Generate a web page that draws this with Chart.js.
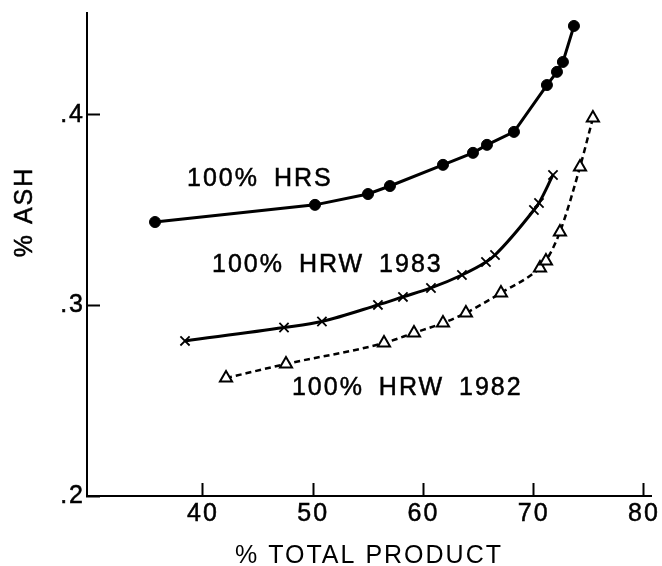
<!DOCTYPE html>
<html>
<head>
<meta charset="utf-8">
<script src="https://cdn.jsdelivr.net/npm/chart.js@4"></script>
<style>
  html, body { margin: 0; padding: 0; background: #fff; }
  canvas { display: block; }
</style>
</head>
<body>
<canvas id="c" width="662" height="566"></canvas>
<script>
// ---- data ----
const hrsX = [35.65, 50.16, 54.97, 56.96, 61.77, 64.49, 65.76, 68.21, 71.20, 72.11, 72.65, 73.65];
const hrsY = [0.3438, 0.3528, 0.3585, 0.3627, 0.3738, 0.3801, 0.3843, 0.3911, 0.4157, 0.4226, 0.4278, 0.4467];

const hrw83X = [38.37, 47.35, 50.79, 55.87, 58.14, 60.68, 63.49, 65.67, 66.49, 70.02, 70.48, 71.75];
const hrw83Y = [0.2814, 0.2884, 0.2916, 0.3003, 0.3045, 0.3092, 0.3160, 0.3228, 0.3265, 0.3501, 0.3538, 0.3685];

const hrw82X = [42.09, 47.53, 56.42, 59.14, 61.77, 63.85, 67.03, 70.57, 71.11, 72.38, 74.20, 75.37];
const hrw82Y = [0.2619, 0.2693, 0.2803, 0.2856, 0.2908, 0.2961, 0.3066, 0.3197, 0.3234, 0.3386, 0.3727, 0.3984];

const xTickValues = [40, 50, 60, 70, 80];
const xTickLabels = ['40', '50', '60', '70', '80'];
const yTickValues = [0.2, 0.3, 0.4];
const yTickLabels = ['.2', '.3', '.4'];

const seriesLabels = ['100% HRS', '100% HRW 1983', '100% HRW 1982'];
const labelAnchorX = [38.55, 40.82, 48.07];
const labelAnchorY = [0.3626, 0.3174, 0.2532];

const xTitle = '% TOTAL PRODUCT';
const yTitle = '% ASH';

const toPts = (xs, ys) => xs.map((x, i) => ({ x: x, y: ys[i] }));

const FONT = "'Liberation Sans', Arial, Helvetica, sans-serif";

const bgPlugin = {
  id: 'bg',
  beforeDraw(chart) {
    const ctx = chart.ctx;
    ctx.save();
    ctx.fillStyle = '#fff';
    ctx.fillRect(0, 0, chart.width, chart.height);
    ctx.restore();
    ctx.letterSpacing = '2px';
  }
};

const textPlugin = {
  id: 'texts',
  afterDraw(chart) {
    const ctx = chart.ctx;
    const xs = chart.scales.x, ys = chart.scales.y;
    ctx.save();
    ctx.fillStyle = '#000';
    ctx.strokeStyle = '#000';
    ctx.lineWidth = 0.5;
    ctx.font = '25px ' + FONT;
    ctx.letterSpacing = '2px';
    ctx.wordSpacing = '6px';
    ctx.textAlign = 'left';
    ctx.textBaseline = 'alphabetic';
    seriesLabels.forEach((t, i) => {
      const px = xs.getPixelForValue(labelAnchorX[i]);
      const py = ys.getPixelForValue(labelAnchorY[i]);
      ctx.fillText(t, px, py);
      ctx.strokeText(t, px, py);
    });
    // y axis title
    const ca = chart.chartArea;
    ctx.wordSpacing = '0px';
    ctx.translate(25, ca.top + 0.412 * (ca.bottom - ca.top));
    ctx.rotate(-Math.PI / 2);
    ctx.textAlign = 'center';
    ctx.textBaseline = 'middle';
    ctx.fillText(yTitle, 0, 0);
    ctx.strokeText(yTitle, 0, 0);
    ctx.restore();
  }
};

new Chart(document.getElementById('c'), {
  type: 'line',
  data: {
    datasets: [
      {
        label: seriesLabels[0],
        data: toPts(hrsX, hrsY),
        borderColor: '#000',
        backgroundColor: '#000',
        borderWidth: 3,
        pointStyle: 'circle',
        pointRadius: 5.5,
        pointBorderWidth: 1,
        tension: 0
      },
      {
        label: seriesLabels[1],
        data: toPts(hrw83X, hrw83Y),
        borderColor: '#000',
        backgroundColor: '#000',
        borderWidth: 3,
        pointStyle: 'crossRot',
        pointRadius: 6.5,
        pointBorderWidth: 1.8,
        cubicInterpolationMode: 'monotone'
      },
      {
        label: seriesLabels[2],
        data: toPts(hrw82X, hrw82Y),
        borderColor: '#000',
        backgroundColor: '#fff',
        borderWidth: 2.5,
        borderDash: [6, 4],
        pointStyle: 'triangle',
        pointRadius: 7,
        pointBorderWidth: 2,
        pointBackgroundColor: '#fff',
        cubicInterpolationMode: 'monotone'
      }
    ]
  },
  options: {
    responsive: false,
    animation: false,
    devicePixelRatio: 1,
    layout: { padding: { top: 13, right: 11, left: 0, bottom: 0 } },
    plugins: {
      legend: { display: false },
      tooltip: { enabled: false },
      title: { display: false }
    },
    scales: {
      x: {
        type: 'linear',
        min: 29.48,
        max: 80.64,
        afterBuildTicks: (s) => { s.ticks = xTickValues.map(v => ({ value: v })); },
        afterFit: (s) => { s.height = 70; s.paddingLeft = 0; s.paddingRight = 0; },
        border: { display: true, color: '#000', width: 2 },
        grid: {
          display: true, drawOnChartArea: false, drawTicks: true,
          tickLength: -13, tickColor: '#000', tickWidth: 2, color: '#000'
        },
        ticks: {
          color: '#000',
          font: { family: FONT, size: 25 },
          textStrokeColor: '#000',
          textStrokeWidth: 0.5,
          padding: 16,
          maxRotation: 0,
          autoSkip: false,
          callback: (v, i) => xTickLabels[i]
        },
        title: {
          display: true,
          text: xTitle,
          color: '#000',
          font: { family: FONT, size: 25, lineHeight: 0.8 },
          padding: 0
        }
      },
      y: {
        type: 'linear',
        min: 0.2,
        max: 0.4535,
        afterBuildTicks: (s) => { s.ticks = yTickValues.map(v => ({ value: v })); },
        afterFit: (s) => { s.width = 87; s.paddingTop = 0; s.paddingBottom = 0; },
        border: { display: true, color: '#000', width: 2 },
        grid: {
          display: true, drawOnChartArea: false, drawTicks: true,
          tickLength: -13, tickColor: '#000', tickWidth: 2, color: '#000'
        },
        ticks: {
          color: '#000',
          font: { family: FONT, size: 25 },
          textStrokeColor: '#000',
          textStrokeWidth: 0.5,
          padding: 15,
          autoSkip: false,
          callback: (v, i) => yTickLabels[i]
        },
        title: { display: false }
      }
    }
  },
  plugins: [bgPlugin, textPlugin]
});
</script>
</body>
</html>
